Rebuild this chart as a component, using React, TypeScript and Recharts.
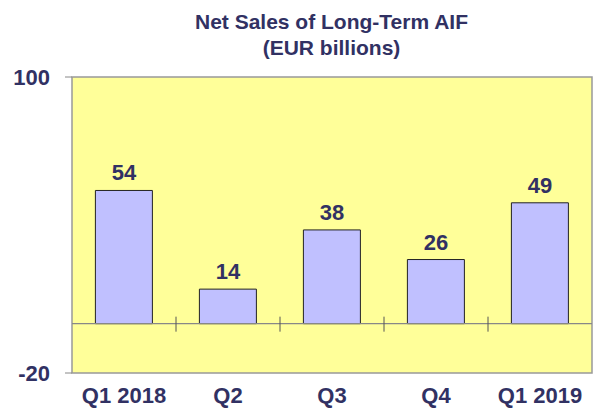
import React from 'react';
import { BarChart, Bar, XAxis, YAxis, ReferenceArea, ReferenceLine, LabelList } from 'recharts';

const categories = ['Q1 2018', 'Q2', 'Q3', 'Q4', 'Q1 2019'];
const netSales = [54, 14, 38, 26, 49];
const yTicks = [-20, 100];
const titleLines = ['Net Sales of Long-Term AIF', '(EUR billions)'];

const data = categories.map((c, i) => ({ name: c, value: netSales[i] }));

const TEXT = '#313163';
const FONT = '"Liberation Sans", Arial, sans-serif';

const ZeroLine = (props: any) => {
  const { x1, y1, x2 } = props;
  const n = categories.length;
  const ticks = [];
  for (let i = 1; i < n; i++) {
    const x = x1 + ((x2 - x1) * i) / n;
    ticks.push(<line key={i} x1={x} x2={x} y1={y1 - 7} y2={y1 + 8} stroke="#555" strokeWidth={1} />);
  }
  return (
    <g>
      <line x1={x1} x2={x2} y1={y1} y2={y1} stroke="#888" strokeWidth={1.2} />
      {ticks}
    </g>
  );
};

export default function App() {
  return (
    <div style={{ position: 'absolute', left: 0, top: 0, width: 595, height: 408, background: '#fff', fontFamily: FONT }}>
      <div
        style={{
          position: 'absolute',
          left: 34,
          top: 9,
          width: 595,
          textAlign: 'center',
          color: TEXT,
          fontWeight: 'bold',
          fontSize: 21,
          lineHeight: '26px',
        }}
      >
        {titleLines.map((t) => (
          <div key={t}>{t}</div>
        ))}
      </div>
      <div style={{ position: 'absolute', left: 0, top: 0 }}>
        <BarChart
          width={595}
          height={408}
          data={data}
          margin={{ top: 77, right: 3, bottom: 0, left: 0 }}
          barCategoryGap="22.5%"
        >
          <ReferenceArea y1={-20} y2={100} fill="#FFFF99" fillOpacity={1} stroke="#999" strokeWidth={1.5} ifOverflow="visible" />
          <XAxis
            dataKey="name"
            axisLine={false}
            tickLine={false}
            height={35}
            tickSize={6}
            tickMargin={8}
            interval={0}
            tick={{ fill: TEXT, fontSize: 22, fontWeight: 'bold', fontFamily: FONT }}
          />
          <YAxis
            domain={[-20, 100]}
            ticks={yTicks}
            width={72}
            axisLine={false}
            tickSize={7}
            tickMargin={15}
            tickLine={{ stroke: '#888' }}
            tick={{ fill: TEXT, fontSize: 22, fontWeight: 'bold', fontFamily: FONT }}
            allowDataOverflow
          />
          <ReferenceLine y={0} shape={ZeroLine} />
          <Bar dataKey="value" fill="#C0C0FF" stroke="#222" strokeWidth={1} isAnimationActive={false}>
            <LabelList
              dataKey="value"
              position="top"
              offset={10}
              fill={TEXT}
              style={{ fontSize: 22, fontWeight: 'bold', fontFamily: FONT }}
            />
          </Bar>
        </BarChart>
      </div>
    </div>
  );
}
